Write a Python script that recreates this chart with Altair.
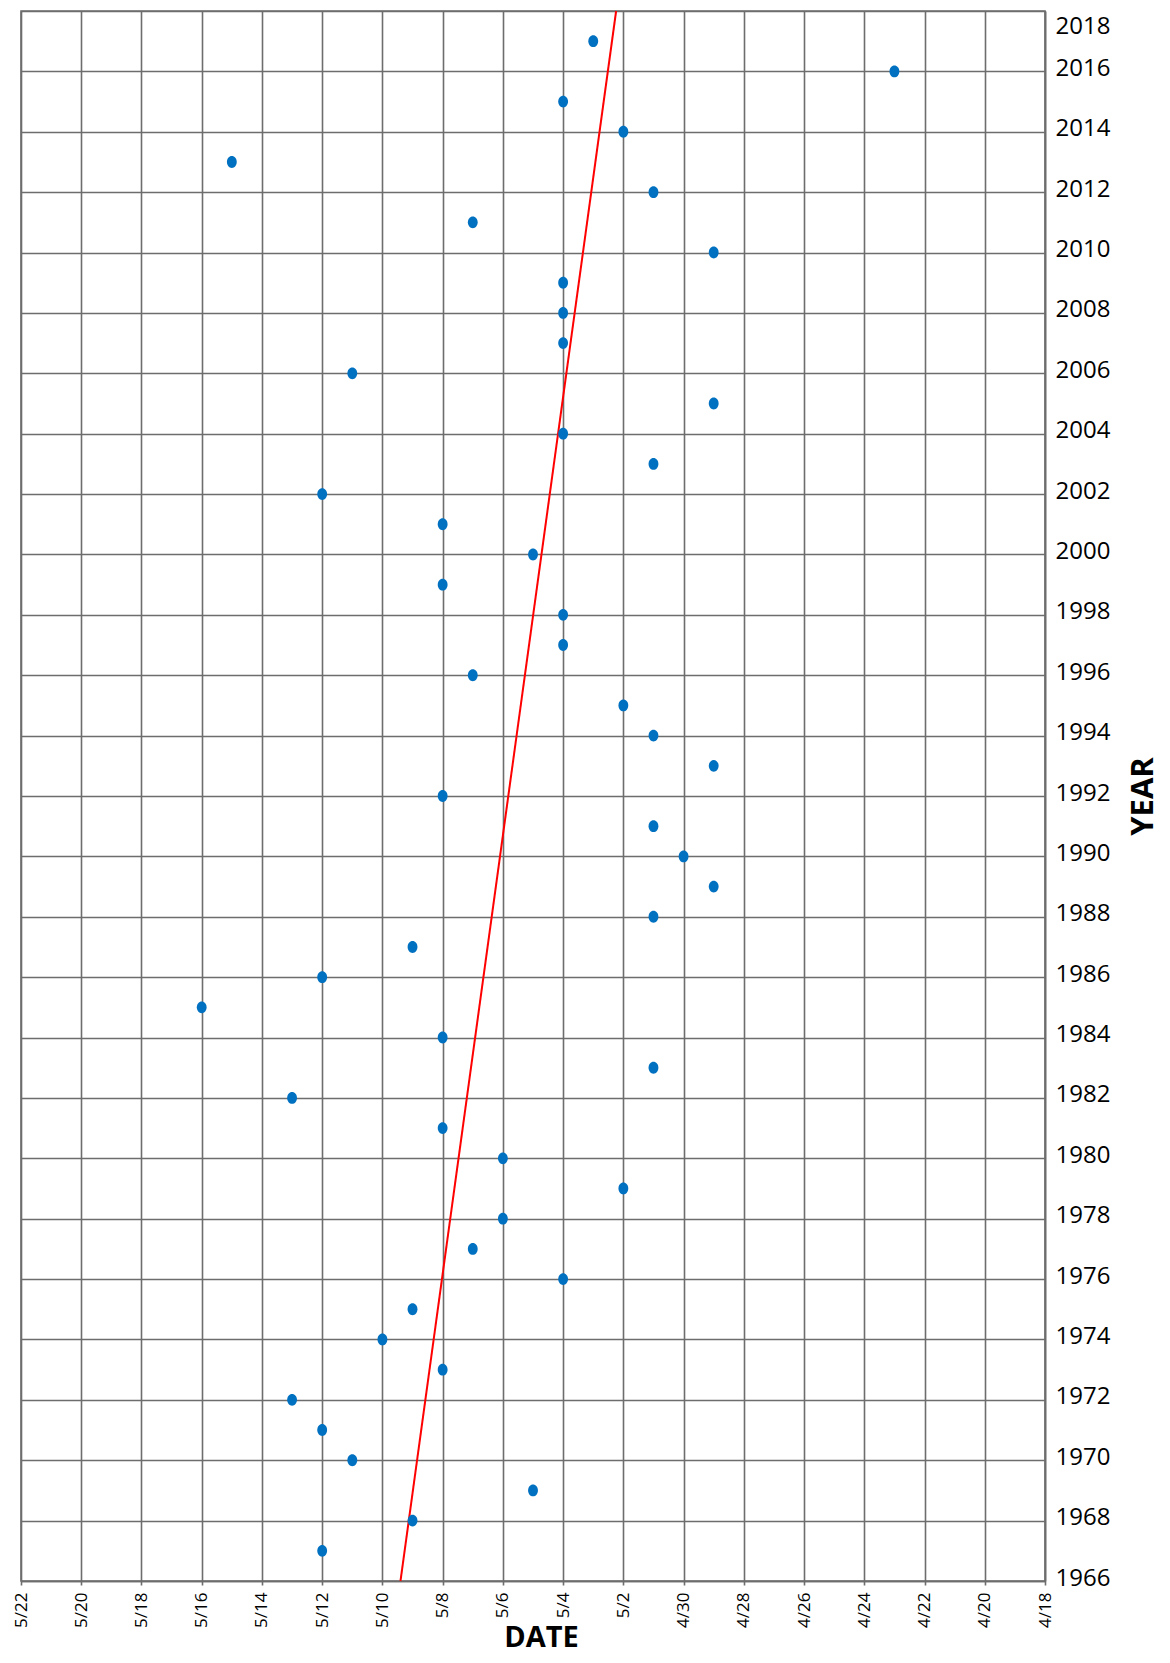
import altair as alt
import pandas as pd

years = list(range(1967, 2018))
dates = [
    "5/12", "5/9", "5/5", "5/11", "5/12", "5/13", "5/8", "5/10", "5/9", "5/4",   # 1967-1976
    "5/7", "5/6", "5/2", "5/6", "5/8", "5/13", "5/1", "5/8", "5/16", "5/12",     # 1977-1986
    "5/9", "5/1", "4/29", "4/30", "5/1", "5/8", "4/29", "5/1", "5/2", "5/7",      # 1987-1996
    "5/4", "5/4", "5/8", "5/5", "5/8", "5/12", "5/1", "5/4", "4/29", "5/11",     # 1997-2006
    "5/4", "5/4", "5/4", "4/29", "5/7", "5/1", "5/15", "5/2", "5/4", "4/23",     # 2007-2016
    "5/3",                                                                       # 2017
]
trend_years = [1966, 2018]
trend_dates = ["5/9.4", "5/2.24"]

x_ticks = list(range(18, 53, 2))
y_ticks = list(range(1966, 2019, 2))


def day_num(s):
    m, d = s.split("/")
    return (30 if m == "5" else 0) + float(d)


pts = pd.DataFrame({"year": years, "day": [day_num(d) for d in dates]})
trend = pd.DataFrame({"year": trend_years, "day": [day_num(d) for d in trend_dates]})

FONT = "Open Sans"
GRID = "#6d6d6d"

xscale = alt.Scale(domain=[18, 52], reverse=True, nice=False, zero=False)
yscale = alt.Scale(domain=[1966, 2018], nice=False, zero=False)

xaxis = alt.Axis(
    values=x_ticks,
    labelExpr="datum.value > 30 ? '5/' + (datum.value - 30) : '4/' + datum.value",
    labelAngle=270,
    labelFont=FONT,
    labelFontSize=17,
    labelColor="#000000",
    labelPadding=7,
    labelFlush=False,
    labelOverlap=False,
    tickSize=4,
    tickColor=GRID,
    tickWidth=1.6,
    grid=True,
    gridColor=GRID,
    gridWidth=1.6,
    gridOpacity=1,
    domainColor=GRID,
    domainWidth=1.6,
    title="DATE",
    titleFont=FONT,
    titleFontSize=29,
    titleFontWeight="bold",
    titleColor="#000000",
    titleX=520,
    titleY=65,
    titleAlign="center",
    titleBaseline="alphabetic",
)

yaxis = alt.Axis(
    orient="right",
    values=y_ticks,
    format="d",
    labelFont=FONT,
    labelFontSize=24,
    labelColor="#000000",
    labelPadding=10,
    labelAlign="left",
    labelBaseline="middle",
    labelOffset={"condition": {"test": "datum.value == 2018", "value": 15}, "value": -3},
    labelFlush=False,
    labelOverlap=False,
    ticks=False,
    grid=True,
    gridColor=GRID,
    gridWidth=1.6,
    gridOpacity=1,
    domainColor=GRID,
    domainWidth=1.6,
    title="YEAR",
    titleFont=FONT,
    titleFontSize=31,
    titleFontWeight="bold",
    titleColor="#000000",
    titleAngle=270,
    titleX=107,
    titleY=785,
    titleAlign="center",
    titleBaseline="alphabetic",
)

ellipse = "M -0.83 0 A 0.83 1 0 1 0 0.83 0 A 0.83 1 0 1 0 -0.83 0 Z"

points = alt.Chart(pts).mark_point(
    shape=ellipse, filled=True, color="#0070c0", opacity=1, size=140, strokeWidth=0
).encode(
    x=alt.X("day:Q", scale=xscale, axis=xaxis),
    y=alt.Y("year:Q", scale=yscale, axis=yaxis),
)

line = alt.Chart(trend).mark_line(color="#ff0000", strokeWidth=2).encode(
    x=alt.X("day:Q", scale=xscale),
    y=alt.Y("year:Q", scale=yscale),
)

chart = alt.layer(line, points).properties(
    width=1024,
    height=1570,
    autosize=alt.AutoSizeParams(type="none"),
    padding={"left": 13, "top": 3, "right": 117, "bottom": 74},
    background="#ffffff",
).configure_view(stroke=GRID, strokeWidth=1.6)

chart.save("out.html", embed_options={"renderer": "svg", "actions": False})
